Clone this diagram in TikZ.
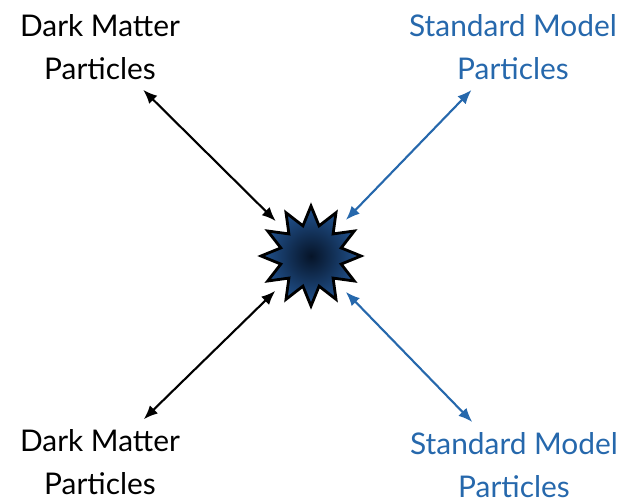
\documentclass[tikz,border=0pt]{standalone}
\usepackage{fontspec}
\setmainfont{Lato}
\usepackage{tikz}
\usetikzlibrary{shapes.geometric, arrows.meta, positioning}
\definecolor{smblue}{RGB}{38,104,172}
\definecolor{burstin}{RGB}{6,20,40}
\definecolor{burstout}{RGB}{34,84,145}

\begin{document}
\begin{tikzpicture}[x=0.02cm, y=-0.02cm,
    label/.style={align=center, inner sep=0pt, font=\fontsize{17}{24.4}\selectfont},
    dm/.style={label, black},
    sm/.style={label, smblue},
    link/.style={{Latex[length=8pt,width=6.5pt]}-{Latex[length=8pt,width=6.5pt]}, line width=1.2pt, shorten <=8pt, shorten >=9pt}]
    \useasboundingbox (0,0) rectangle (638,503);
    \node[star, star points=12, star point ratio=1.6, minimum size=2cm, inner sep=0pt, draw=black, line width=1.6pt,
        inner color=burstin, outer color=burstout] (burst) at (311,256) {};
    \node[dm] (dmtop) at (100,47) {Dark Matter\\Particles};
    \node[sm] (smtop) at (513,47) {Standard Model\\Particles};
    \node[dm] (dmbot) at (100,462) {Dark Matter\\Particles};
    \node[sm] (smbot) at (514,465) {Standard Model\\Particles};
    \draw[link, black] (dmtop) -- (burst);
    \draw[link, smblue] (smtop) -- (burst);
    \draw[link, black] (dmbot) -- (burst);
    \draw[link, smblue] (smbot) -- (burst);
\end{tikzpicture}
\end{document}
